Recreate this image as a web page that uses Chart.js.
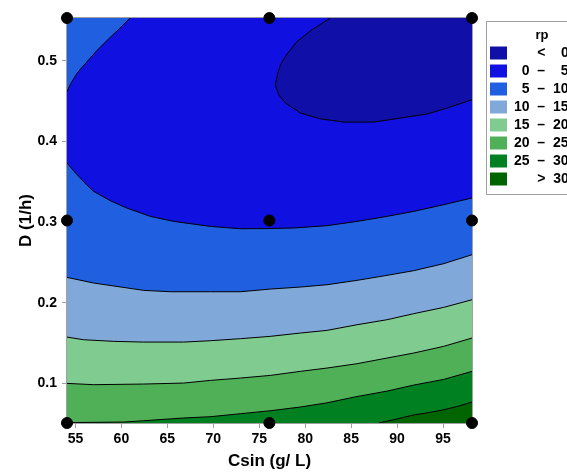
<!DOCTYPE html>
<html>
<head>
<meta charset="utf-8">
<script src="https://cdn.jsdelivr.net/npm/chart.js@4/dist/chart.umd.min.js"></script>
<style>
    html, body { margin: 0; padding: 0; background: #fff; overflow: hidden; }
    #wrap { width: 567px; height: 472px; overflow: hidden; }
</style>
</head>
<body>
<div id="wrap"><canvas id="rpChart" width="598" height="472"></canvas></div>
<script>
// axes
const csinRange = [54.08, 98.15];
const dRange = [0.051, 0.553];
const csinTicks = [55, 60, 65, 70, 75, 80, 85, 90, 95];
const dTicks = [0.1, 0.2, 0.3, 0.4, 0.5];

// design points (black dots)
const designCsin = [54.08, 76.1, 98.15];
const designD = [0.051, 0.302, 0.553];

// legend levels
const levelLo = [null, 0, 5, 10, 15, 20, 25, 30];
const levelHi = [0, 5, 10, 15, 20, 25, 30, null];
const levelColors = ["#1010a8", "#1010e0", "#2060e0", "#80a8d8", "#80cc90", "#50b058", "#008020", "#006400"];

// contour lines [Csin, D]; the last point of the *Upper arrays closes along the top edge
const lt0Upper = [[76.76, 0.470], [77.0, 0.484], [77.31, 0.495], [78.0, 0.508], [79.12, 0.524], [80.8, 0.539], [82.75, 0.553], [98.15, 0.553]];
const lt0Lower = [[76.76, 0.470], [77.1, 0.458], [77.85, 0.4476], [79.48, 0.4352], [81.66, 0.428], [84.2, 0.424], [87.46, 0.424], [90.36, 0.429], [93.27, 0.434], [95.44, 0.4414], [98.15, 0.4517]];
const c5Upper = [[54.08, 0.462], [54.5, 0.472], [55.2, 0.485], [56.2, 0.498], [57.36, 0.513], [58.6, 0.527], [59.8, 0.540], [60.95, 0.553], [98.15, 0.553]];
const c5Lower = [[54.08, 0.3732], [55.0, 0.361], [56.2, 0.3465], [57.0, 0.338], [58.8, 0.3265], [60.6, 0.3174], [63.15, 0.3071], [65.69, 0.3009], [69.68, 0.2947], [72.94, 0.2918], [75.84, 0.2920], [78.74, 0.2927], [82.37, 0.2956], [85.64, 0.3009], [88.9, 0.3071], [91.8, 0.3133], [95.07, 0.3216], [98.15, 0.3299]];
const c10 = [[54.08, 0.2315], [56.98, 0.2245], [62.42, 0.2154], [65.32, 0.2137], [69.68, 0.2137], [72.94, 0.2137], [76.21, 0.2170], [79.47, 0.2195], [82.37, 0.2224], [85.64, 0.2278], [88.9, 0.2340], [91.8, 0.2398], [95.07, 0.2485], [98.15, 0.2596]];
const c15 = [[54.08, 0.1575], [55.89, 0.1542], [59.16, 0.1522], [62.42, 0.1513], [66.77, 0.1513], [69.68, 0.1530], [72.94, 0.1555], [76.21, 0.1584], [79.47, 0.1625], [82.37, 0.1658], [85.64, 0.1728], [88.9, 0.1790], [91.8, 0.1865], [95.07, 0.1943], [98.15, 0.2038]];
const c20 = [[54.08, 0.1001], [56.98, 0.0985], [62.42, 0.0993], [66.77, 0.1005], [69.68, 0.1038], [72.94, 0.1067], [76.21, 0.1100], [79.47, 0.1150], [82.37, 0.1191], [85.64, 0.1245], [88.9, 0.1315], [91.8, 0.1377], [95.07, 0.1460], [98.15, 0.1563]];
const c25 = [[54.08, 0.0515], [60.3, 0.0522], [62.42, 0.0538], [66.77, 0.0572], [69.68, 0.0588], [72.94, 0.0625], [76.21, 0.0662], [79.47, 0.0708], [82.37, 0.0760], [85.5, 0.0835], [88.9, 0.0905], [91.8, 0.0980], [95.07, 0.1050], [98.15, 0.1150]];
const c30 = [[88.0, 0.051], [90.0, 0.056], [91.8, 0.061], [93.5, 0.064], [95.1, 0.0675], [96.7, 0.072], [98.15, 0.077]];

const FONT = "'Liberation Sans', Arial, sans-serif";
const GRAY = "#a0a0a0";
const LEGEND_WIDTH = 112;

const pts = arr => arr.map(([x, y]) => ({ x, y }));
const pad2 = n => String(n).padStart(2, "\u2007");

function levelText(i) {
    if (levelLo[i] === null) return "\u2007\u2007  <  " + pad2(levelHi[i]);
    if (levelHi[i] === null) return "\u2007\u2007  >  " + pad2(levelLo[i]);
    return pad2(levelLo[i]) + "  \u2013  " + pad2(levelHi[i]);
}

function contour(data, fill, color, order, lineColor) {
    return {
        type: "line",
        data: pts(data),
        borderColor: lineColor || "#000",
        borderWidth: 1,
        backgroundColor: color,
        fill: fill,
        pointRadius: 0,
        tension: 0,
        order: order
    };
}

const designPoints = [];
designD.forEach(d => designCsin.forEach(c => designPoints.push({ x: c, y: d })));

const NONE = "rgba(0,0,0,0)";
const datasets = [
    // <0 pocket: filled between its two branches, outline drawn without the top-edge run
    contour(lt0Upper, "+1", levelColors[0], 3, NONE),
    contour(lt0Lower, false, levelColors[0], 1),
    contour(lt0Upper.slice(0, -1), false, levelColors[0], 2),
    // 0-5 band
    contour(c5Upper, "+1", levelColors[1], 6, NONE),
    contour(c5Lower, false, levelColors[1], 4),
    contour(c5Upper.slice(0, -1), false, levelColors[1], 5),
    // lower bands, each filled down to the axis
    contour(c10, "start", levelColors[3], 11),
    contour(c15, "start", levelColors[4], 10),
    contour(c20, "start", levelColors[5], 9),
    contour(c25, "start", levelColors[6], 8),
    contour(c30, "start", levelColors[7], 7),
    {
        type: "scatter",
        data: designPoints,
        backgroundColor: "#000",
        borderColor: "#000",
        pointRadius: 5.5,
        clip: false,
        order: 0
    }
];
const DOTS = datasets.length - 1;

const plotFrame = {
    id: "plotFrame",
    beforeUpdate(chart) {
        // keep the legend column at a fixed width so the plot ends where it should
        const lg = chart.legend;
        if (lg && !lg._fixedWidth) {
            const fit = lg.fit.bind(lg);
            lg.fit = function () { fit(); this.width = LEGEND_WIDTH; };
            lg._fixedWidth = true;
        }
    },
    beforeDatasetsDraw(chart) {
        const a = chart.chartArea, ctx = chart.ctx;
        ctx.save();
        ctx.fillStyle = levelColors[2];
        ctx.fillRect(a.left, a.top, a.right - a.left, a.bottom - a.top);
        ctx.restore();
    },
    beforeDatasetDraw(chart, args) {
        if (args.index !== DOTS) return;
        const a = chart.chartArea, ctx = chart.ctx;
        ctx.save();
        ctx.strokeStyle = GRAY;
        ctx.lineWidth = 1;
        ctx.strokeRect(a.left - 0.5, a.top - 0.5, a.right - a.left + 1, a.bottom - a.top + 1);
        ctx.restore();
    },
    afterDraw(chart) {
        const lg = chart.legend;
        if (!lg || !lg.legendHitBoxes.length) return;
        const last = lg.legendHitBoxes[lg.legendHitBoxes.length - 1];
        const ctx = chart.ctx;
        ctx.save();
        ctx.strokeStyle = GRAY;
        ctx.lineWidth = 1;
        ctx.strokeRect(lg.left + 0.5, 21.5, lg.width + 20, last.top + last.height + 8 - 21);
        ctx.restore();
    }
};

new Chart(document.getElementById("rpChart"), {
    type: "line",
    data: { datasets },
    plugins: [plotFrame],
    options: {
        responsive: false,
        animation: false,
        layout: { padding: { top: 18, left: 0, right: 0, bottom: 0 } },
        plugins: {
            tooltip: { enabled: false },
            legend: {
                position: "right",
                align: "start",
                title: {
                    display: true,
                    text: "rp",
                    color: "#000",
                    font: { family: FONT, size: 13, weight: "bold", lineHeight: 1 },
                    padding: { top: 11, bottom: 0 }
                },
                labels: {
                    boxWidth: 17,
                    boxHeight: 13,
                    padding: 4,
                    color: "#000",
                    font: { family: FONT, size: 14, weight: "bold" },
                    generateLabels: () => levelColors.map((c, i) => ({
                        text: levelText(i),
                        fillStyle: c,
                        strokeStyle: c,
                        lineWidth: 0,
                        hidden: false,
                        datasetIndex: i
                    }))
                }
            }
        },
        scales: {
            x: {
                type: "linear",
                min: csinRange[0],
                max: csinRange[1],
                afterBuildTicks: s => { s.ticks = csinTicks.map(v => ({ value: v })); },
                afterFit: s => { s.height = 49; },
                ticks: {
                    color: "#000",
                    padding: 3,
                    maxRotation: 0,
                    font: { family: FONT, size: 14, weight: "bold" },
                    callback: v => String(v)
                },
                grid: { drawOnChartArea: false, tickLength: 5, color: GRAY },
                border: { display: false },
                title: {
                    display: true,
                    text: "Csin (g/ L)",
                    color: "#000",
                    font: { family: FONT, size: 17, weight: "bold" },
                    padding: { top: 0, bottom: 0 }
                }
            },
            y: {
                type: "linear",
                min: dRange[0],
                max: dRange[1],
                afterBuildTicks: s => { s.ticks = dTicks.map(v => ({ value: v })); },
                afterFit: s => { s.width = 67; },
                ticks: {
                    color: "#000",
                    padding: 5,
                    font: { family: FONT, size: 14, weight: "bold" },
                    callback: v => v.toFixed(1)
                },
                grid: { drawOnChartArea: false, tickLength: 5, color: GRAY },
                border: { display: false },
                title: {
                    display: true,
                    text: "D (1/h)",
                    color: "#000",
                    font: { family: FONT, size: 17, weight: "bold" },
                    padding: { top: 16, bottom: 0 }
                }
            },
            yGap: {
                type: "linear",
                position: "right",
                display: true,
                min: dRange[0],
                max: dRange[1],
                afterFit: s => { s.width = 14; },
                ticks: { display: false },
                grid: { display: false },
                border: { display: false }
            }
        }
    }
});
</script>
</body>
</html>
